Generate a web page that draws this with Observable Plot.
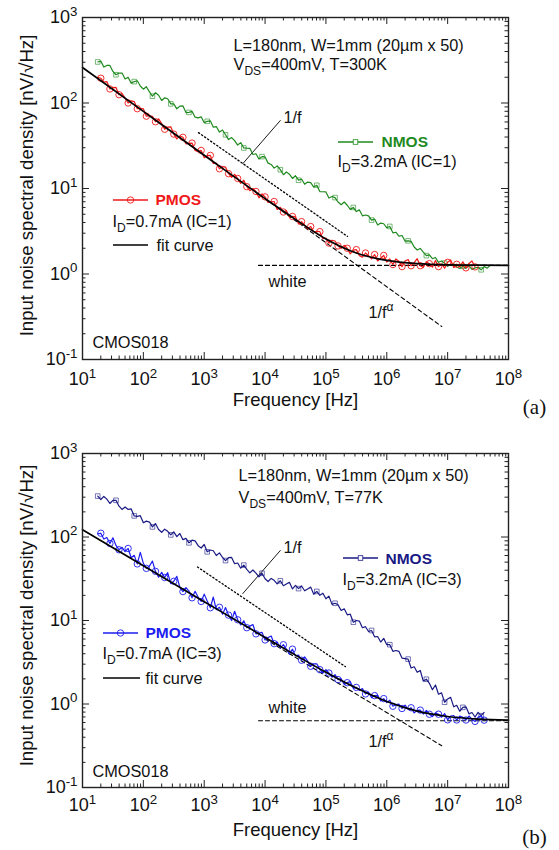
<!DOCTYPE html>
<html><head><meta charset="utf-8">
<script src="https://cdn.jsdelivr.net/npm/d3@7"></script>
<script src="https://cdn.jsdelivr.net/npm/@observablehq/plot@0.6"></script>
<style>
body{margin:0;background:#fff;}
#root{position:relative;width:559px;height:850px;overflow:hidden;background:#fff}
#root svg{position:absolute;left:0;display:block}
</style></head><body><div id="root"></div>
<script>
// ---------- data ----------
const freqs = [
 1.78e1,2.00e1,2.24e1,2.51e1,2.82e1,3.16e1,3.55e1,3.98e1,4.47e1,5.01e1,5.62e1,6.31e1,7.08e1,7.94e1,8.91e1,
 1.00e2,1.12e2,1.26e2,1.41e2,1.58e2,1.78e2,2.00e2,2.24e2,2.51e2,2.82e2,3.16e2,3.55e2,3.98e2,4.47e2,5.01e2,5.62e2,6.31e2,7.08e2,7.94e2,8.91e2,
 1.00e3,1.12e3,1.26e3,1.41e3,1.58e3,1.78e3,2.00e3,2.24e3,2.51e3,2.82e3,3.16e3,3.55e3,3.98e3,4.47e3,5.01e3,5.62e3,6.31e3,7.08e3,7.94e3,8.91e3,
 1.00e4,1.12e4,1.26e4,1.41e4,1.58e4,1.78e4,2.00e4,2.24e4,2.51e4,2.82e4,3.16e4,3.55e4,3.98e4,4.47e4,5.01e4,5.62e4,6.31e4,7.08e4,7.94e4,8.91e4,
 1.00e5,1.12e5,1.26e5,1.41e5,1.58e5,1.78e5,2.00e5,2.24e5,2.51e5,2.82e5,3.16e5,3.55e5,3.98e5,4.47e5,5.01e5,5.62e5,6.31e5,7.08e5,7.94e5,8.91e5,
 1.00e6,1.12e6,1.26e6,1.41e6,1.58e6,1.78e6,2.00e6,2.24e6,2.51e6,2.82e6,3.16e6,3.55e6,3.98e6,4.47e6,5.01e6,5.62e6,6.31e6,7.08e6,7.94e6,8.91e6,
 1.00e7,1.12e7,1.26e7,1.41e7,1.58e7,1.78e7,2.00e7,2.24e7,2.51e7,2.82e7,3.16e7,3.55e7,3.98e7,4.47e7,5.01e7
];
// (a) T=300K
const pmosA = [200,195,176,178,146,151,152,125,129,114,
 100,106,104,85.7,86.7,85.5,70.1,71.0,70.0,60.3,
 65.2,57.3,49.3,52.1,52.7,43.3,38.0,41.1,39.7,33.3,
 33.7,34.0,27.9,27.0,27.9,22.9,24.2,24.4,19.6,19.8,
 17.0,18.0,17.8,14.9,13.5,14.6,13.1,11.5,12.5,10.5,
 9.42,10.0,9.23,7.78,8.63,7.98,6.87,6.97,7.05,5.68,
 6.01,5.31,5.51,4.65,4.71,4.67,3.85,4.10,3.72,3.37,
 3.59,3.10,3.16,3.13,2.59,2.63,2.30,2.48,2.43,2.13,
 2.00,2.16,2.00,1.72,1.91,1.93,1.64,1.57,1.76,1.64,
 1.50,1.69,1.42,1.53,1.65,1.38,1.50,1.29,1.50,1.41,
 1.22,1.42,1.48,1.25,1.36,1.51,1.25,1.19,1.39,1.32,
 1.20,1.44,1.22,1.31,1.17,1.37,1.46,1.19,1.30,1.21,
 1.39,1.18,1.33,1.42,1.21];
const nmosA = [302,309,263,275,275,234,214,224,224,191,
 200,170,178,182,158,145,155,135,120,132,
 123,107,115,112,97.7,97.7,85.5,92,92.5,77.3,
 77.6,79.8,68.2,67.0,68.9,58.9,61.1,61.9,52.2,53.0,
 45.7,48.3,42.5,37.3,39.4,36.3,32.2,34.4,29.8,29.6,
 29.5,25.0,25.5,22.1,23.6,23.4,19.8,19.1,17.3,18.4,
 16.6,14.5,15.6,14.7,13.1,14.1,12.5,12.9,11.2,11.9,
 11.7,10.4,10.9,9.2,9.16,9.12,7.73,8.05,7.83,6.95,
 6.46,6.95,6.37,5.70,6.0,5.37,5.62,4.79,4.90,4.79,
 4.27,4.39,3.75,3.94,3.87,3.47,3.60,3.03,3.08,2.78,
 2.82,2.42,2.44,2.41,2.07,1.91,1.99,1.80,1.64,1.67,
 1.51,1.56,1.37,1.42,1.34,1.23,1.30,1.31,1.21,1.16,
 1.23,1.17,1.25,1.13,1.18,1.20,1.12,1.22,1.17,1.26];
const fitF = [1e1,1e2,1e3,1e4,3.16e4,1e5,3.16e5,1e6,3.16e6,1e7,3.16e7,1e8];
const fitA = [260,79.8,24.5,7.62,4.35,2.57,1.76,1.44,1.32,1.28,1.27,1.26];
// (b) T=77K
const pmosB = [109,111,94.4,98.6,83.6,97.7,79.3,70.3,75.2,66.7,
 72.9,56.4,60.3,47.6,65.6,48.4,42.1,44.9,51.4,38.8,
 33.0,37.7,32.7,37.4,27.7,29.5,33.8,24.9,22.2,24.8,
 22.5,18.7,22.4,19.0,16.9,20.7,17.1,14.2,19.1,13.5,
 14.4,11.9,14.3,11.6,10.0,12.9,10.2,8.85,9.91,8.20,
 8.57,8.95,6.92,7.06,7.21,5.85,6.25,6.52,5.28,5.52,
 4.69,5.13,4.56,3.96,4.54,3.77,3.85,3.34,3.66,3.26,
 2.83,3.03,3.03,2.58,2.35,2.58,2.35,2.09,2.25,1.96,
 2.00,1.71,1.80,1.85,1.54,1.58,1.46,1.53,1.32,1.39,
 1.19,1.26,1.27,1.09,1.16,1.04,1.11,0.940,0.982,0.995,
 0.883,0.968,0.861,0.902,0.783,0.839,0.845,0.759,0.839,0.754,
 0.708,0.783,0.755,0.695,0.769,0.646,0.718,0.728,0.643,0.715,
 0.692,0.643,0.718,0.652,0.619,0.692,0.721,0.640];
const nmosB = [309,281,306,284,252,275,275,234,214,229,
 214,217,179,177,180,148,155,151,132,145,
 123,114,124,117,106,115,101,110,92.9,96.4,
 85.1,91.6,89.9,78.7,73.8,81.3,66.4,69.8,68.5,60.0,
 64.6,56.8,52.2,56.5,57.0,47.9,48.8,42.3,46.1,40.9,
 37.2,40.2,37.0,33.3,36.8,31.6,29.3,31.9,30.3,27.4,
 29.9,26.1,27.4,28.7,23.9,26.3,24.1,25.9,22.7,23.9,
 25.1,20.6,22.3,20.0,21.2,18.2,19.6,15.6,16.1,15.4,
 13.2,13.8,11.7,11.9,9.55,10.0,9.82,8.20,8.43,7.38,
 7.59,6.37,6.43,5.52,6.11,5.13,5.13,4.27,4.37,4.27,
 3.55,3.50,3.45,2.70,2.79,2.40,2.52,1.88,1.98,1.77,
 1.48,1.69,1.31,1.36,1.05,1.15,1.20,0.925,0.964,0.817,
 0.912,0.925,0.762,0.791,0.698,0.794,0.724,0.794];
const fitB = [122,45.2,16.8,6.27,3.85,2.40,1.55,1.07,0.82,0.708,0.66,0.64];
// reference lines
const whiteF = [7.8e3, 1e8];
const whiteA = [1.26, 1.26];
const whiteB = [0.63, 0.63];
const invF_A_f = [805, 2.26e5],  invF_A_v = [45, 2.75];
const invF_B_f = [776, 2.09e5],  invF_B_v = [43.7, 2.8];
const alphaF = [1e4, 8e6];
const alphaA = [7.6, 0.243];
const alphaB = [6.0, 0.316];
const leaderF = [4.3e3, 1.78e4];
const leaderA = [19.5, 62.4];
const leaderB = [21.0, 68.9];
// axes
const xMajor = [1e1,1e2,1e3,1e4,1e5,1e6,1e7,1e8];
const yMajor = [1e-1,1e0,1e1,1e2,1e3];

// ---------- helpers ----------
const SANS = "'Liberation Sans', Arial, Helvetica, sans-serif";
const isMajor = t => Math.abs(Math.log10(t) - Math.round(Math.log10(t))) < 1e-6;
const xMinor = d3.scaleLog().domain([10, 1e8]).ticks().filter(t => !isMajor(t));
const yMinor = d3.scaleLog().domain([0.1, 1000]).ticks().filter(t => !isMajor(t));
const pow10 = d => "10^{" + Math.round(Math.log10(d)) + "}";
const pairs = (fs, vs) => vs.map((v, i) => ({f: fs[i], v}));

function richify(svg) {
  const NS = "http://www.w3.org/2000/svg";
  for (const t of svg.querySelectorAll("text")) {
    const s = t.textContent;
    if (!/[\^_]\{/.test(s)) continue;
    const fs = parseFloat(getComputedStyle(t).fontSize) || 16;
    t.textContent = "";
    let cur = 0, last = 0, m;
    const add = (txt, shift, small) => {
      if (!txt) return;
      const ts = document.createElementNS(NS, "tspan");
      const dy = shift - cur;
      if (dy) ts.setAttribute("dy", dy.toFixed(2));
      if (small) ts.setAttribute("font-size", (fs * 0.74).toFixed(2));
      ts.textContent = txt;
      t.appendChild(ts);
      cur = shift;
    };
    const re = /([\^_])\{([^}]*)\}/g;
    while ((m = re.exec(s))) {
      add(s.slice(last, m.index), 0, false);
      add(m[2], m[1] === "^" ? -0.42 * fs : 0.3 * fs, true);
      last = re.lastIndex;
    }
    add(s.slice(last), 0, false);
  }
}

function panel(c) {
  const W = 559, ml = 82, mr = 51;
  const innerW = W - ml - mr, innerH = c.height - c.mt - c.mb;
  const P = pairs(freqs, c.pmos), N = pairs(freqs, c.nmos);
  const txt = (s, dx, dy, o = {}) => Plot.text([s], {
    frameAnchor: "top-left", dx, dy, text: d => d, textAnchor: "start", lineAnchor: "middle",
    fontSize: 16.3, fill: "#111", ...o});
  const marks = [
    // inward ticks on all four sides
    Plot.ruleX(xMajor, {insetTop: innerH - 7, stroke: "#222"}),
    Plot.ruleX(xMinor, {insetTop: innerH - 3.5, stroke: "#222"}),
    Plot.ruleX(xMajor, {insetBottom: innerH - 7, stroke: "#222"}),
    Plot.ruleX(xMinor, {insetBottom: innerH - 3.5, stroke: "#222"}),
    Plot.ruleY(yMajor, {insetRight: innerW - 7, stroke: "#222"}),
    Plot.ruleY(yMinor, {insetRight: innerW - 3.5, stroke: "#222"}),
    Plot.ruleY(yMajor, {insetLeft: innerW - 7, stroke: "#222"}),
    Plot.ruleY(yMinor, {insetLeft: innerW - 3.5, stroke: "#222"}),
    // reference lines
    Plot.line(pairs(whiteF, c.white), {x: "f", y: "v", stroke: "#000", strokeWidth: 1.1, strokeDasharray: "4,3"}),
    Plot.line(pairs(c.invFf, c.invFv), {x: "f", y: "v", stroke: "#000", strokeWidth: 1.3, strokeDasharray: "1.3,2.4"}),
    Plot.line(pairs(alphaF, c.alpha), {x: "f", y: "v", stroke: "#000", strokeWidth: 1.1, strokeDasharray: "4,3"}),
    Plot.line(pairs(leaderF, c.leader), {x: "f", y: "v", stroke: "#000", strokeWidth: 0.9}),
    // data
    Plot.line(N, {x: "f", y: "v", stroke: c.nColor, strokeWidth: 1.2}),
    Plot.dot(N.filter((d, i) => i % 6 === 0), {x: "f", y: "v", symbol: "square", r: 2.6, stroke: c.nColor, strokeWidth: 0.8, fill: "none", strokeOpacity: 0.75}),
    Plot.line(P, {x: "f", y: "v", stroke: c.pColor, strokeWidth: 1.2}),
    Plot.dot(P.filter((d, i) => i % 3 === 1), {x: "f", y: "v", r: 3.2, stroke: c.pColor, strokeWidth: 0.9, fill: "none"}),
    Plot.line(pairs(fitF, c.fit), {x: "f", y: "v", stroke: "#000", strokeWidth: 1.7, curve: "monotone-x"}),
    // annotations
    ...c.texts.map(([s, dx, dy, o]) => txt(s, dx, dy, o)),
    Plot.text(["Frequency [Hz]"], {frameAnchor: "bottom", dy: c.titleDy, text: d => d, textAnchor: "middle", lineAnchor: "middle", fontSize: 18.5, fill: "#111"}),
    Plot.text([c.tag], {frameAnchor: "bottom-right", dx: 26, dy: c.titleDy + 7, text: d => d, textAnchor: "middle", lineAnchor: "middle", fontSize: 21, fill: "#111", fontFamily: "'Liberation Serif', 'Times New Roman', serif"}),
    Plot.text(["Input noise spectral density [nV/\u221AHz]"], {frameAnchor: "left", dx: -55, dy: c.ytDy, rotate: -90, text: d => d, textAnchor: "middle", lineAnchor: "middle", fontSize: 18.6, fill: "#111"}),
    Plot.frame({stroke: "#222", strokeWidth: 1.4}),
    Plot.axisX({ticks: xMajor, tickFormat: pow10, tickSize: 0, tickPadding: c.xPad, fontSize: 18, label: null, fill: "#111"}),
    Plot.axisY({ticks: yMajor, tickFormat: pow10, tickSize: 0, tickPadding: 5, fontSize: 18, label: null, fill: "#111"})
  ];
  const svg = Plot.plot({
    width: W, height: c.height,
    marginLeft: ml, marginRight: mr, marginTop: c.mt, marginBottom: c.mb,
    x: {type: "log", domain: [10, 1e8]},
    y: {type: "log", domain: [0.1, 1000]},
    style: {fontFamily: SANS, background: "white", overflow: "visible"},
    marks
  });
  svg.style.top = c.top + "px";
  document.getElementById("root").appendChild(svg);
  richify(svg);
  // legend glyphs (page coordinates converted to this svg)
  const g = d3.select(svg).append("g");
  for (const L of c.legend) {
    g.append("line").attr("x1", L.x1).attr("x2", L.x2).attr("y1", L.y - c.top).attr("y2", L.y - c.top)
      .attr("stroke", L.color).attr("stroke-width", L.w || 1.3);
    if (L.mark === "circle") g.append("circle").attr("cx", (L.x1 + L.x2) / 2).attr("cy", L.y - c.top).attr("r", 3.2)
      .attr("fill", "none").attr("stroke", L.color).attr("stroke-width", 0.9);
    if (L.mark === "square") g.append("rect").attr("x", (L.x1 + L.x2) / 2 - 2.3).attr("y", L.y - c.top - 2.3)
      .attr("width", 4.6).attr("height", 4.6).attr("fill", "white").attr("stroke", L.color).attr("stroke-width", 0.8);
  }
}

const RED = "#f01818", GREEN = "#1f8a1f", BLUE = "#1c1cf0", NAVY = "#1a1a85";

panel({
  top: 0, height: 425, mt: 17, mb: 66, xPad: 13, titleDy: 41, ytDy: -3, tag: "(a)",
  pmos: pmosA, nmos: nmosA, fit: fitA, white: whiteA,
  invFf: invF_A_f, invFv: invF_A_v, alpha: alphaA, leader: leaderA,
  pColor: RED, nColor: GREEN,
  texts: [
    ["L=180nm, W=1mm (20\u00B5m x 50)", 151, 28],
    ["V_{DS}=400mV, T=300K", 151, 47],
    ["1/f", 201, 100],
    ["NMOS", 299, 125, {fill: GREEN, fontWeight: "bold", fontSize: 15.5}],
    ["I_{D}=3.2mA (IC=1)", 255, 144],
    ["PMOS", 73, 183, {fill: RED, fontWeight: "bold", fontSize: 15.5}],
    ["I_{D}=0.7mA (IC=1)", 30, 204],
    ["fit curve", 74, 228],
    ["white", 186, 264],
    ["1/f^{\u03B1}", 286, 295],
    ["CMOS018", 10, 325]
  ],
  legend: [
    {x1: 113, x2: 148, y: 200, color: RED, mark: "circle"},
    {x1: 113, x2: 148, y: 245, color: "#000", w: 1.6},
    {x1: 338, x2: 373, y: 142, color: GREEN, mark: "square"}
  ]
});

panel({
  top: 425, height: 425, mt: 28, mb: 63, xPad: 11, titleDy: 43, ytDy: -5, tag: "(b)",
  pmos: pmosB, nmos: nmosB, fit: fitB, white: whiteB,
  invFf: invF_B_f, invFv: invF_B_v, alpha: alphaB, leader: leaderB,
  pColor: BLUE, nColor: NAVY,
  texts: [
    ["L=180nm, W=1mm (20\u00B5m x 50)", 156, 22],
    ["V_{DS}=400mV, T=77K", 156, 44],
    ["1/f", 201, 94],
    ["NMOS", 303, 106, {fill: NAVY, fontWeight: "bold", fontSize: 15.5}],
    ["I_{D}=3.2mA (IC=3)", 260, 126],
    ["PMOS", 63, 180, {fill: BLUE, fontWeight: "bold", fontSize: 15.5}],
    ["I_{D}=0.7mA (IC=3)", 20, 200],
    ["fit curve", 63, 225],
    ["white", 186, 254],
    ["1/f^{\u03B1}", 286, 288],
    ["CMOS018", 10, 318]
  ],
  legend: [
    {x1: 103, x2: 138, y: 633, color: BLUE, mark: "circle"},
    {x1: 103, x2: 140, y: 678, color: "#000", w: 1.6},
    {x1: 343, x2: 378, y: 558, color: NAVY, mark: "square"}
  ]
});
</script></body></html>
